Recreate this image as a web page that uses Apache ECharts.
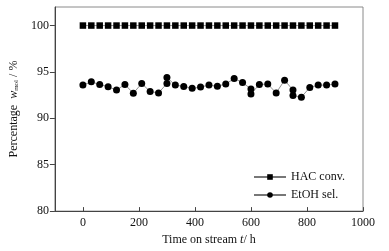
<!DOCTYPE html>
<html><head><meta charset="utf-8">
<script src="https://cdn.jsdelivr.net/npm/echarts@6/dist/echarts.min.js"></script>
<style>html,body{margin:0;padding:0;background:#fff}#c{width:389px;height:251px}</style>
</head><body><div id="c"></div>
<script>
const hacTime = [0,30,60,90,120,150,180,210,240,270,300,330,360,390,420,450,480,510,540,570,600,630,660,690,720,750,780,810,840,870,900];
const hacConv = [100,100,100,100,100,100,100,100,100,100,100,100,100,100,100,100,100,100,100,100,100,100,100,100,100,100,100,100,100,100,100];
const etohTime = [0,30,60,90,120,150,180,210,240,270,300,300,330,360,390,420,450,480,510,540,570,600,600,630,660,690,720,750,750,780,810,840,870,900];
const etohSel = [93.58,93.93,93.65,93.4,93.05,93.65,92.7,93.76,92.88,92.74,93.76,94.39,93.58,93.44,93.23,93.37,93.58,93.47,93.69,94.29,93.86,93.16,92.63,93.65,93.69,92.74,94.11,93.05,92.45,92.28,93.33,93.58,93.58,93.69];
const xTicks = [0,200,400,600,800,1000];
const yTicks = [80,85,90,95,100];

const font = 'Liberation Serif';
const chart = echarts.init(document.getElementById('c'));
chart.setOption({
  animation:false,
  backgroundColor:'#fff',
  textStyle:{fontFamily:font},
  grid:{left:46,right:26,top:7,bottom:36,show:true,borderColor:'#8a8a8a',borderWidth:1},
  xAxis:{type:'value',min:-100,max:1000,
    name:'{a|Time on stream }{i|t}{a|/ h}',nameLocation:'middle',nameGap:21,
    nameTextStyle:{rich:{a:{fontFamily:font,fontSize:12,color:'#111'},i:{fontFamily:font,fontStyle:'italic',fontSize:12,color:'#111'}}},
    axisLine:{onZero:false,lineStyle:{color:'#444',width:1}},
    axisTick:{inside:true,length:4,customValues:xTicks,lineStyle:{color:'#444'}},
    axisLabel:{customValues:xTicks,formatter:v=>String(v),fontFamily:font,fontSize:12,color:'#111',margin:6},
    splitLine:{show:false}},
  yAxis:{type:'value',min:80,max:102,
    name:'{a|Percentage  }{i|w}{s|mol}{a| / %}',nameLocation:'middle',nameGap:26,nameRotate:90,
    nameTextStyle:{rich:{a:{fontFamily:font,fontSize:12,color:'#111'},i:{fontFamily:font,fontStyle:'italic',fontSize:12,color:'#111'},s:{fontFamily:font,fontSize:7,color:'#111',padding:[5,0,0,0]}}},
    axisLine:{onZero:false,lineStyle:{color:'#444',width:1}},
    axisTick:{inside:false,length:5,customValues:yTicks,lineStyle:{color:'#444'}},
    axisLabel:{customValues:yTicks,fontFamily:font,fontSize:12,color:'#111',margin:6},
    splitLine:{show:false}},
  legend:{orient:'vertical',left:248,top:166,itemWidth:32,itemHeight:7,itemGap:6,
    textStyle:{fontFamily:font,fontSize:12,color:'#111'},
    data:['HAC conv.','EtOH sel.']},
  series:[
    {name:'HAC conv.',type:'line',data:hacTime.map((t,i)=>[t,hacConv[i]]),
     symbol:'rect',symbolSize:6.5,itemStyle:{color:'#000'},lineStyle:{color:'#777',width:0.8}},
    {name:'EtOH sel.',type:'line',data:etohTime.map((t,i)=>[t,etohSel[i]]),
     symbol:'circle',symbolSize:7,itemStyle:{color:'#000'},lineStyle:{color:'#777',width:0.8}}
  ]
});
</script></body></html>
